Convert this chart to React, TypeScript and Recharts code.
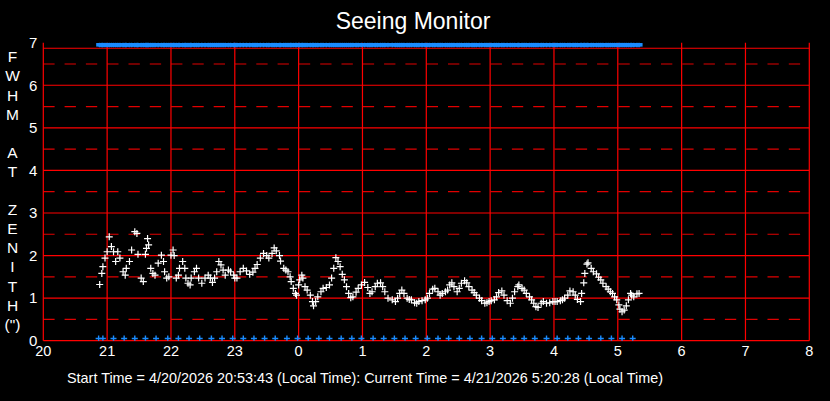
import React from "react";
import {
  ScatterChart,
  Scatter,
  XAxis,
  YAxis,
  ReferenceLine,
} from "recharts";

// minutes after 20:00 local time, FWHM (arcsec)
const seeingMinutes = [
  53, 55, 56, 58, 60, 62, 64, 66, 68, 70, 72, 75, 77, 78, 81, 83, 86, 88, 89, 92,
  94, 96, 97, 98, 99, 101, 103, 105, 108, 111, 113, 114, 116, 118, 120, 122, 123, 125, 127, 128,
  131, 133, 134, 136, 138, 139, 142, 144, 146, 149, 152, 155, 157, 159, 161, 163, 165, 167, 169, 171,
  174, 176, 179, 180, 182, 185, 188, 191, 194, 197, 199, 201, 204, 207, 210, 212, 215, 217, 219, 222,
  223, 226, 228, 230, 232, 233, 235, 237, 238, 240, 241, 243, 244, 246, 248, 251, 253, 254, 256, 258,
  261, 263, 266, 269, 271, 273, 275, 277, 279, 281, 283, 285, 287, 289, 291, 294, 296, 299, 302, 305,
  307, 309, 312, 314, 317, 319, 321, 324, 328, 331, 333, 335, 337, 339, 342, 344, 346, 349, 351, 353,
  356, 359, 361, 363, 366, 368, 371, 373, 375, 378, 380, 382, 384, 386, 389, 391, 393, 396, 398, 400,
  403, 405, 407, 410, 412, 415, 417, 419, 421, 424, 426, 428, 431, 433, 436, 439, 441, 443, 446, 447,
  450, 452, 454, 457, 459, 461, 463, 465, 468, 470, 473, 476, 479, 481, 483, 486, 488, 490, 493, 495,
  498, 500, 502, 505, 506, 508, 509, 511, 512, 515, 517, 520, 522, 524, 526, 529, 531, 533, 535, 537,
  539, 541, 542, 544, 546, 548, 550, 552, 553, 555, 558, 560,
];
const seeingValues = [
  1.32, 1.58, 1.74, 1.94, 2.09, 2.44, 2.21, 2.09, 1.86, 2.09, 1.94, 1.62, 1.54, 1.7, 1.86, 2.13, 2.56, 2.52, 2.03, 1.47,
  1.39, 2.03, 2.17, 2.4, 2.25, 1.7, 1.58, 1.54, 1.82, 2.01, 1.86, 1.62, 1.47, 1.5, 2.01, 2.13, 2.0, 1.47, 1.54, 1.7,
  1.86, 1.7, 1.47, 1.35, 1.31, 1.47, 1.62, 1.7, 1.47, 1.35, 1.47, 1.54, 1.47, 1.37, 1.47, 1.62, 1.86, 1.78, 1.66, 1.54,
  1.66, 1.62, 1.54, 1.47, 1.47, 1.62, 1.7, 1.64, 1.56, 1.61, 1.7, 1.79, 1.94, 2.05, 2.0, 1.94, 2.05, 2.18, 2.11, 2.0,
  1.87, 1.7, 1.66, 1.62, 1.5, 1.39, 1.23, 1.11, 1.07, 1.31, 1.43, 1.54, 1.47, 1.27, 1.19, 1.07, 0.92, 0.82, 0.92, 1.03,
  1.15, 1.23, 1.25, 1.31, 1.47, 1.7, 1.95, 1.86, 1.74, 1.56, 1.43, 1.27, 1.11, 1.01, 1.03, 1.14, 1.23, 1.31, 1.37, 1.25,
  1.11, 1.15, 1.27, 1.35, 1.36, 1.27, 1.15, 1.0, 0.96, 0.92, 1.0, 1.11, 1.19, 1.11, 1.0, 0.97, 0.96, 0.89, 0.88, 0.92,
  0.94, 0.96, 1.0, 1.11, 1.21, 1.23, 1.15, 1.07, 1.11, 1.15, 1.19, 1.31, 1.36, 1.27, 1.15, 1.23, 1.35, 1.41, 1.36, 1.27,
  1.19, 1.13, 1.07, 1.0, 0.94, 0.88, 0.89, 0.92, 0.94, 0.96, 1.03, 1.13, 1.17, 1.07, 0.94, 0.88, 1.0, 1.15, 1.27, 1.31,
  1.23, 1.19, 1.11, 1.03, 0.96, 0.88, 0.8, 0.78, 0.88, 0.92, 0.88, 0.89, 0.92, 0.92, 0.92, 0.94, 0.96, 1.0, 1.07, 1.17,
  1.15, 1.07, 0.97, 0.92, 1.11, 1.36, 1.58, 1.8, 1.83, 1.7, 1.62, 1.57, 1.49, 1.43, 1.35, 1.27, 1.21, 1.15, 1.11, 1.03,
  0.96, 0.84, 0.74, 0.68, 0.72, 0.82, 0.96, 1.11, 1.07, 1.03, 1.1, 1.11,
];

// blue markers along the bottom edge (minutes after 20:00)
const bottomMarkMinutes = [
  52, 56, 66, 76, 86, 96, 106, 117, 127, 137, 147, 158, 168, 178, 188, 198, 208, 218, 229, 239,
  249, 259, 269, 280, 290, 299, 310, 320, 330, 340, 350, 361, 371, 381, 391, 401, 412, 422, 432, 442,
  452, 462, 473, 483, 493, 503, 513, 524, 534, 544, 554,
];

const hourTicks = [20, 21, 22, 23, 24, 25, 26, 27, 28, 29, 30, 31, 32];
const yTicks = [0, 1, 2, 3, 4, 5, 6, 7];
const solidLevels = [0, 1, 2, 3, 4, 5, 6];
const dashedLevels = [0.5, 1.5, 2.5, 3.5, 4.5, 5.5, 6.5];
const axisTitle = ["F", "W", "H", "M", "", "A", "T", "", "Z", "E", "N", "I", "T", "H", "(\")"];

const TOP_BORDER = 6.87;
const TOP_MARK = 6.95;
const BOTTOM_MARK = 0.05;

const toHour = (m: number) => 20 + m / 60;

const seeingData = seeingMinutes.map((m, i) => ({ t: toHour(m), v: seeingValues[i] }));
const topMarks = seeingMinutes.map((m) => ({ t: toHour(m), v: TOP_MARK }));
const bottomMarks = bottomMarkMinutes.map((m) => ({ t: toHour(m), v: BOTTOM_MARK }));

const FONT = "'Liberation Sans', Arial, sans-serif";
const RED = "#ff0000";
const BLUE = "#1a8cff";

const makePlus = (color: string, rx: number, ry: number, w: number) => (props: any) => {
  const { cx, cy } = props;
  if (cx == null || cy == null) return <g />;
  return (
    <path
      d={`M${cx - rx},${cy}H${cx + rx}M${cx},${cy - ry}V${cy + ry}`}
      stroke={color}
      strokeWidth={w}
      fill="none"
    />
  );
};

// top status marks: thick crosses that merge into a band
const TopMark = (props: any) => {
  const { cx, cy } = props;
  if (cx == null || cy == null) return <g />;
  return (
    <g>
      <rect x={cx - 3.5} y={cy - 1.8} width={7} height={3.6} fill={BLUE} />
      <path d={`M${cx},${cy - 2.5}V${cy + 2.5}`} stroke={BLUE} strokeWidth={1.5} />
    </g>
  );
};

export default function App() {
  return (
    <div
      style={{
        position: "fixed",
        left: 0,
        top: 0,
        width: 830,
        height: 401,
        background: "#000",
        fontFamily: FONT,
      }}
    >
      <ScatterChart
        width={830}
        height={401}
        margin={{ top: 42.7, right: 20.7, bottom: 40.3, left: 3.3 }}
      >
        <XAxis
          type="number"
          dataKey="t"
          domain={[20, 32]}
          ticks={hourTicks}
          tickFormatter={(v) => String(v % 24)}
          axisLine={false}
          tickLine={false}
          tickSize={3}
          tickMargin={2}
          height={20}
          tick={{ fill: "#fff", fontSize: 14.5, fontFamily: FONT }}
          allowDataOverflow
        />
        <YAxis
          type="number"
          dataKey="v"
          domain={[0, 7]}
          ticks={yTicks}
          axisLine={false}
          tickLine={false}
          tickSize={4}
          tickMargin={2}
          width={40}
          tick={{ fill: "#fff", fontSize: 15, fontFamily: FONT }}
          allowDataOverflow
        />
        {dashedLevels.map((y) => (
          <ReferenceLine
            key={`d${y}`}
            y={y}
            stroke="#e00000"
            strokeWidth={1.2}
            strokeDasharray="11.3 10"
          />
        ))}
        {solidLevels.map((y) => (
          <ReferenceLine key={`s${y}`} y={y} stroke={RED} strokeWidth={1.2} />
        ))}
        <ReferenceLine y={TOP_BORDER} stroke={RED} strokeWidth={1.2} />
        {hourTicks.map((x) => (
          <ReferenceLine key={`v${x}`} x={x} stroke={RED} strokeWidth={1.2} />
        ))}
        <Scatter data={topMarks} isAnimationActive={false} shape={TopMark} />
        <Scatter
          data={bottomMarks}
          isAnimationActive={false}
          shape={makePlus(BLUE, 3, 3, 1.4)}
        />
        <Scatter
          data={seeingData}
          isAnimationActive={false}
          shape={makePlus("#ffffff", 3.5, 3.5, 1.2)}
        />
      </ScatterChart>

      <svg
        width={830}
        height={401}
        style={{ position: "absolute", left: 0, top: 0, pointerEvents: "none" }}
      >
        <text
          x={413}
          y={28.5}
          textAnchor="middle"
          fill="#fff"
          fontSize={23}
          fontFamily={FONT}
        >
          Seeing Monitor
        </text>
        {axisTitle.map((ch, i) => (
          <text
            key={i}
            x={12.5}
            y={62.3 + i * 19.1}
            textAnchor="middle"
            fill="#fff"
            fontSize={15.5}
            fontFamily={FONT}
          >
            {ch}
          </text>
        ))}
        <text x={67} y={383} fill="#fff" fontSize={14.4} fontFamily={FONT}>
          Start Time = 4/20/2026 20:53:43 (Local Time): Current Time = 4/21/2026 5:20:28 (Local Time)
        </text>
      </svg>
    </div>
  );
}
